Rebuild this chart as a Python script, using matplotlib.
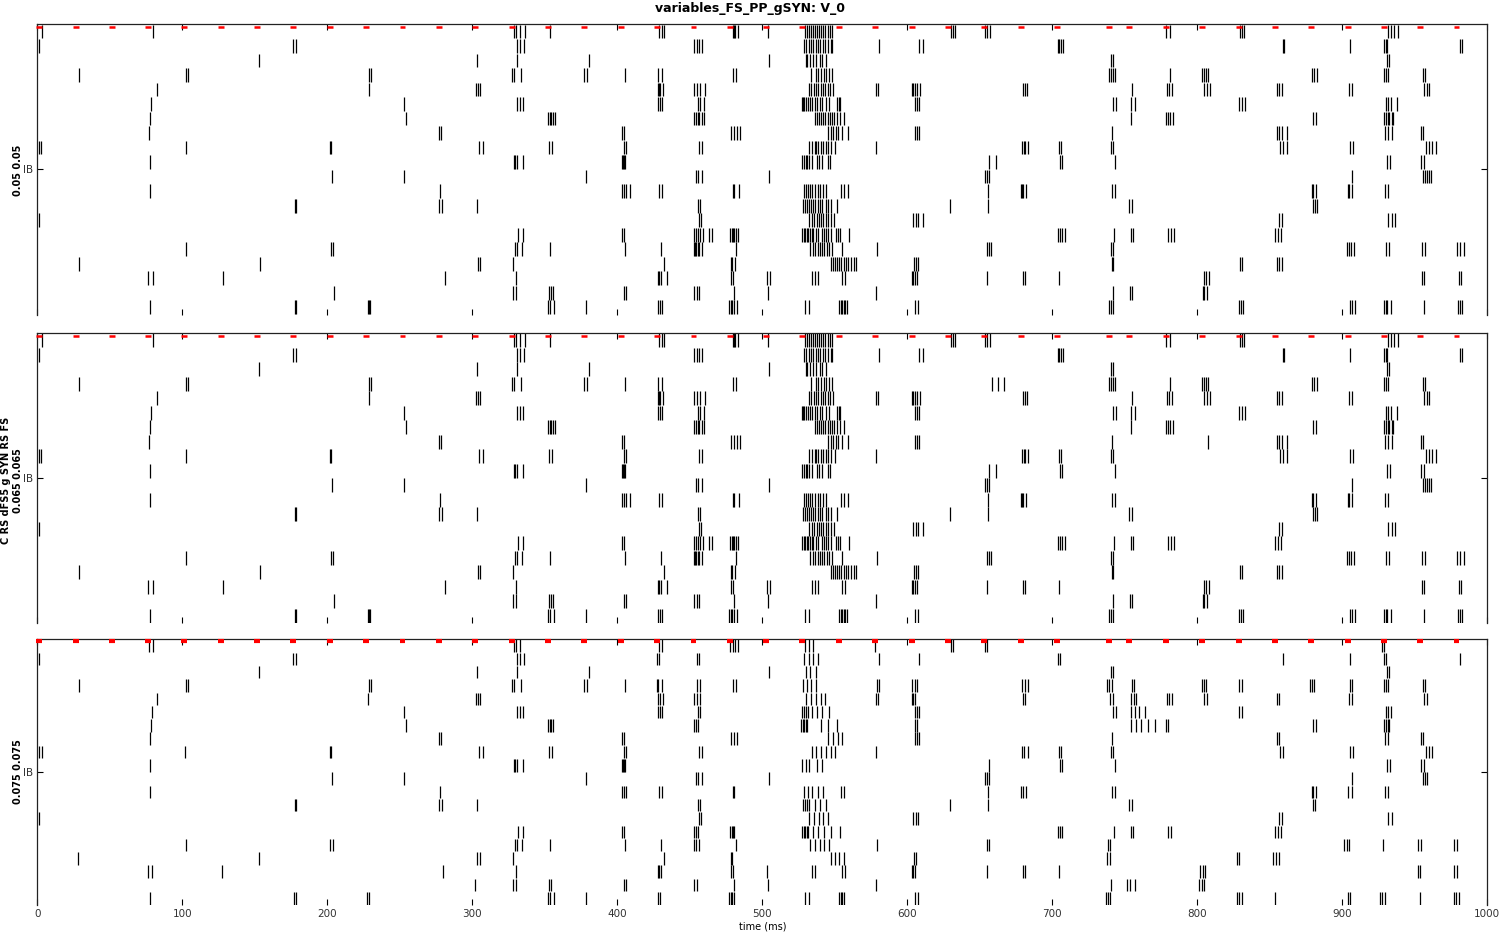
import matplotlib
matplotlib.use("Agg")
import matplotlib.pyplot as plt

# spike times (ms) per cell, row 0 at top
spikes_005 = [
    [3.0, 79.6, 328.5, 330.4, 332.9, 336.4, 353.8, 429.0, 430.6, 432.4, 479.6, 480.3, 481.2, 483.0, 504.1,
     529.7, 530.8, 532.2, 533.6, 535.0, 536.3, 537.7, 539.1, 540.5, 541.9, 543.5, 545.1, 546.7, 548.3,
     629.9, 631.3, 633.1, 653.8, 655.2, 657.0, 778.6, 780.9, 829.4, 830.6, 832.2, 931.7, 933.3, 935.4, 938.1],
    [1.4, 176.6, 178.6, 330.6, 332.9, 335.7, 453.1, 454.7, 456.4, 458.6, 529.0, 530.4, 532.0, 533.3, 535.2,
     536.8, 538.4, 539.8, 541.6, 543.5, 545.5, 547.1, 548.3, 580.7, 608.3, 610.6, 703.7, 704.8, 706.2, 707.6,
     858.8, 860.0, 905.5, 928.9, 930.1, 931.0, 981.4, 982.7],
    [153.1, 303.5, 331.1, 380.7, 504.8, 529.9, 531.0, 532.9, 534.7, 537.0, 539.8, 541.2, 543.7, 740.2, 741.6,
     931.0, 932.2],
    [28.5, 102.8, 104.2, 228.5, 230.4, 327.6, 329.0, 333.8, 377.0, 379.3, 405.5, 428.3, 430.6, 480.0, 482.1,
     533.3, 537.0, 538.6, 540.5, 542.3, 544.1, 546.0, 548.1, 739.3, 740.7, 742.1, 743.5, 781.4, 803.4, 804.6,
     805.7, 807.1, 879.3, 880.7, 882.3, 928.9, 930.3, 931.7, 955.4, 957.0],
    [82.8, 228.5, 302.8, 304.2, 305.5, 427.9, 428.5, 429.5, 431.5, 453.1, 455.0, 456.8, 460.7, 532.0, 533.6,
     535.4, 537.0, 538.6, 540.5, 542.1, 543.5, 545.1, 546.7, 549.0, 578.6, 580.0, 603.0, 604.1, 605.5, 606.9,
     608.7, 680.0, 681.4, 682.8, 755.2, 779.3, 780.7, 782.3, 804.8, 806.9, 808.5, 854.7, 856.5, 858.4, 904.8,
     906.6, 956.5, 958.1, 959.8],
    [78.6, 253.1, 331.1, 332.9, 335.2, 427.9, 429.5, 431.1, 455.9, 457.3, 460.0, 527.6, 528.3, 529.0, 530.1,
     531.3, 532.9, 534.3, 536.3, 537.9, 539.8, 541.2, 543.7, 545.8, 551.3, 552.7, 553.8, 605.0, 606.4, 608.3,
     741.6, 744.2, 754.0, 757.0, 829.0, 830.6, 832.9, 930.3, 931.7, 933.3, 937.9],
    [78.0, 254.0, 352.4, 353.4, 354.5, 355.9, 356.8, 453.1, 454.3, 455.4, 456.6, 458.2, 459.6, 536.1, 537.5,
     538.9, 540.2, 541.6, 543.0, 545.1, 546.4, 547.8, 549.2, 551.7, 553.6, 556.6, 754.5, 778.6, 780.0, 781.4,
     783.0, 880.0, 881.8, 928.9, 930.1, 931.2, 932.4, 934.0, 935.2],
    [77.3, 277.3, 278.7, 403.5, 404.9, 478.7, 480.3, 482.6, 484.9, 545.5, 547.1, 549.0, 550.6, 552.4, 554.7,
     559.3, 605.0, 606.4, 608.3, 740.9, 855.2, 856.5, 858.1, 862.0, 929.6, 931.7, 934.2, 954.2, 955.8],
    [1.4, 2.8, 102.8, 201.6, 202.8, 304.9, 307.6, 353.1, 355.2, 404.4, 406.0, 456.6, 458.6, 532.0, 534.0,
     536.1, 537.0, 538.6, 540.5, 542.1, 543.7, 545.5, 547.1, 550.4, 578.6, 678.9, 680.7, 681.4, 683.5, 704.4,
     705.8, 740.2, 742.1, 857.2, 859.3, 862.0, 905.5, 907.6, 957.9, 959.5, 961.6, 964.8],
    [78.0, 328.5, 329.7, 330.8, 335.0, 403.0, 403.7, 404.4, 405.1, 527.6, 528.7, 529.9, 531.0, 532.4, 534.0,
     537.5, 539.1, 541.2, 545.1, 546.9, 656.6, 660.9, 705.3, 706.9, 743.5, 931.0, 933.1, 954.2, 956.3],
    [203.0, 253.1, 378.6, 454.5, 455.9, 458.6, 504.8, 653.3, 654.7, 656.1, 906.9, 955.8, 957.2, 958.6, 960.0,
     961.4],
    [78.0, 278.0, 403.0, 404.4, 405.8, 408.5, 428.8, 431.1, 479.6, 480.7, 484.2, 529.0, 530.4, 531.7, 533.1,
     534.5, 536.3, 538.2, 540.0, 542.1, 543.7, 554.0, 556.6, 559.3, 655.9, 678.2, 679.1, 680.0, 682.1, 740.9,
     743.0, 878.8, 880.0, 881.8, 903.9, 904.6, 906.9, 929.2, 931.5],
    [177.5, 178.6, 277.3, 279.3, 303.5, 455.4, 457.0, 528.3, 529.7, 531.0, 532.4, 533.8, 535.2, 536.6, 538.2,
     539.8, 541.4, 543.7, 545.3, 547.1, 551.3, 629.7, 655.9, 753.1, 754.7, 879.5, 881.1, 882.7],
    [1.4, 456.4, 457.7, 532.4, 534.3, 535.9, 537.5, 539.1, 540.7, 542.1, 543.7, 545.3, 547.1, 549.4, 604.1,
     605.8, 607.6, 611.0, 856.5, 858.4, 931.7, 934.0, 936.5],
    [331.3, 335.0, 403.5, 404.9, 453.1, 454.5, 455.9, 457.3, 459.3, 463.0, 465.6, 478.0, 478.9, 479.8, 480.7,
     481.6, 483.5, 527.6, 528.5, 529.4, 530.6, 531.7, 532.9, 534.0, 535.2, 537.0, 538.6, 541.4, 542.5, 543.9,
     545.3, 547.1, 550.6, 552.0, 553.6, 560.0, 704.1, 705.5, 706.9, 708.5, 742.8, 754.2, 755.6, 780.0, 781.6,
     783.9, 853.8, 855.4, 857.5],
    [102.8, 202.3, 204.0, 329.2, 330.6, 334.5, 353.8, 405.5, 430.4, 453.1, 453.8, 454.5, 455.4, 456.3, 458.6,
     482.1, 533.1, 534.7, 536.6, 538.2, 539.8, 541.4, 542.8, 544.4, 546.2, 547.8, 554.7, 579.3, 654.7, 656.1,
     657.7, 740.2, 741.6, 903.2, 904.4, 905.7, 908.0, 930.1, 932.2, 954.9, 957.0, 979.3, 981.4, 984.1],
    [28.5, 153.8, 303.7, 305.1, 328.3, 432.0, 478.2, 479.3, 481.2, 547.1, 548.5, 550.4, 551.7, 553.1, 554.5,
     556.1, 557.5, 559.3, 561.4, 563.0, 564.8, 604.4, 606.0, 607.6, 740.9, 741.6, 829.4, 831.0, 855.2, 856.5,
     858.1],
    [76.6, 80.0, 128.3, 281.4, 330.4, 427.9, 429.0, 430.4, 434.5, 478.2, 479.6, 503.5, 505.3, 534.0, 536.1,
     538.2, 554.7, 557.3, 603.0, 604.1, 605.5, 606.9, 654.7, 679.6, 681.4, 704.8, 804.8, 806.0, 808.0, 954.7,
     956.3, 980.4, 981.8],
    [204.6, 328.3, 330.4, 353.1, 354.3, 355.9, 404.4, 406.2, 453.1, 455.0, 456.6, 480.7, 504.1, 578.6, 742.1,
     753.3, 754.9, 803.9, 804.8, 806.4],
    [78.0, 177.5, 178.6, 228.1, 229.0, 229.7, 352.4, 353.6, 356.1, 378.6, 427.9, 429.5, 431.1, 477.3, 478.2,
     479.1, 480.3, 482.3, 529.7, 532.4, 552.9, 554.0, 555.2, 556.3, 557.3, 558.6, 605.3, 607.6, 739.1, 740.2,
     741.6, 828.7, 830.1, 831.7, 905.5, 906.9, 908.7, 928.9, 930.3, 931.0, 933.3, 956.5, 979.8, 981.2, 982.5],
]

# middle panel: nearly the same raster, a few extra spikes
spikes_0065 = [list(r) for r in spikes_005]
spikes_0065[3] = spikes_0065[3] + [658.6, 662.8, 667.0]
spikes_0065[7] = spikes_0065[7] + [807.5]

spikes_0075 = [
    [77.3, 79.6, 328.5, 330.4, 332.9, 429.0, 430.6, 477.5, 479.6, 481.2, 483.0, 529.7, 532.2, 535.0, 578.0,
     629.9, 631.3, 653.8, 655.2, 927.5, 929.0],
    [1.4, 176.6, 178.6, 330.6, 332.9, 335.7, 427.5, 429.0, 454.7, 456.4, 529.0, 532.0, 535.2, 538.4, 580.7,
     608.3, 703.7, 705.0, 858.8, 905.5, 928.9, 930.1, 981.4],
    [153.1, 303.5, 331.1, 380.7, 504.8, 529.9, 532.9, 537.0, 740.2, 741.6, 931.0, 932.2],
    [28.5, 102.8, 104.2, 228.5, 230.4, 327.6, 329.0, 333.8, 377.0, 379.3, 405.5, 427.5, 428.3, 430.6, 455.0,
     457.0, 480.0, 482.1, 528.0, 530.5, 533.3, 537.0, 579.0, 580.5, 603.5, 605.0, 607.0, 679.0, 681.0, 683.0,
     737.5, 739.3, 741.0, 755.0, 756.5, 803.4, 804.6, 805.7, 829.0, 830.5, 877.5, 879.3, 880.7, 905.5, 906.5,
     928.9, 930.3, 931.7, 955.4, 957.0],
    [82.3, 228.3, 302.8, 304.2, 305.5, 427.9, 429.5, 431.5, 453.1, 455.0, 456.8, 530.0, 533.6, 537.0, 540.5,
     543.5, 578.6, 580.0, 603.0, 604.1, 605.5, 680.0, 681.4, 740.0, 742.0, 754.5, 756.0, 758.0, 779.3, 780.7,
     782.3, 804.8, 806.9, 854.7, 856.5, 904.8, 906.6, 956.5, 958.1],
    [79.0, 253.1, 331.1, 332.9, 335.2, 427.9, 429.5, 431.1, 455.9, 457.3, 527.6, 529.0, 530.1, 531.3, 534.3,
     537.9, 541.2, 545.8, 605.0, 606.4, 608.3, 741.6, 744.2, 754.0, 757.0, 760.0, 764.0, 829.0, 830.6, 930.3,
     931.7, 933.3],
    [78.1, 254.0, 352.4, 353.4, 354.5, 355.9, 453.1, 454.3, 455.4, 527.0, 528.0, 529.0, 530.0, 531.0, 540.2,
     545.1, 551.7, 605.0, 607.0, 754.5, 758.0, 761.0, 766.0, 771.0, 778.6, 780.0, 880.0, 881.8, 928.9, 930.1,
     931.2, 932.4],
    [77.4, 277.3, 278.7, 403.5, 404.9, 478.7, 480.3, 482.6, 545.5, 549.0, 552.4, 554.7, 605.0, 606.4, 608.3,
     740.9, 855.2, 856.5, 929.6, 931.7, 954.2, 955.8],
    [1.4, 3.0, 102.2, 201.7, 202.8, 304.9, 307.6, 353.1, 355.2, 404.4, 406.0, 456.6, 458.6, 534.0, 537.0,
     540.5, 543.7, 547.1, 550.4, 578.6, 678.9, 680.7, 683.5, 704.4, 705.8, 740.2, 742.1, 857.2, 859.3, 905.5,
     907.6, 957.9, 959.5, 961.6],
    [78.0, 328.5, 329.7, 330.8, 335.0, 403.0, 403.7, 404.4, 405.1, 527.6, 529.9, 532.4, 537.5, 541.2, 656.6,
     705.3, 706.9, 743.5, 931.0, 933.1, 954.2, 956.3],
    [203.0, 253.1, 378.6, 454.5, 455.9, 458.6, 504.8, 653.3, 654.7, 656.1, 906.9, 955.8, 957.2, 958.6],
    [78.0, 278.0, 403.0, 404.4, 405.8, 428.8, 431.1, 479.6, 480.7, 529.0, 531.7, 534.5, 538.2, 542.1, 554.0,
     556.6, 655.9, 678.2, 680.0, 682.1, 740.9, 743.0, 878.8, 880.0, 881.8, 903.9, 906.9, 929.2, 931.5],
    [177.5, 178.6, 277.3, 279.3, 303.5, 455.4, 457.0, 528.3, 529.7, 531.0, 532.4, 536.6, 539.8, 543.7, 629.7,
     655.9, 753.1, 754.7, 879.5, 881.1],
    [1.4, 456.4, 457.7, 532.4, 535.9, 539.1, 542.1, 545.3, 604.1, 605.8, 607.6, 856.5, 858.4, 931.7, 934.0],
    [331.3, 335.0, 403.5, 404.9, 453.1, 454.5, 455.9, 478.0, 478.9, 479.8, 480.7, 527.6, 528.5, 529.4, 530.6,
     531.7, 535.2, 538.6, 542.5, 547.1, 553.6, 704.1, 705.5, 706.9, 742.8, 754.2, 755.6, 780.0, 781.6, 853.8,
     855.4, 857.5],
    [102.6, 201.8, 204.0, 329.2, 330.6, 334.5, 353.8, 405.5, 430.4, 453.1, 454.5, 456.3, 482.1, 533.1, 536.6,
     539.8, 542.8, 546.2, 579.3, 654.7, 656.1, 738.5, 740.0, 901.5, 903.0, 904.5, 927.8, 952.2, 954.1, 977.0,
     979.0],
    [28.1, 153.0, 303.3, 305.1, 328.3, 432.0, 478.2, 479.3, 547.1, 550.4, 553.1, 556.1, 604.4, 606.0, 737.8,
     739.8, 827.2, 828.6, 852.2, 854.2, 856.3],
    [76.6, 79.3, 127.5, 280.0, 330.4, 427.9, 429.0, 430.4, 478.2, 479.6, 503.5, 534.0, 536.1, 554.7, 557.3,
     603.0, 604.1, 605.5, 654.7, 679.6, 681.4, 704.8, 801.9, 803.7, 805.5, 952.0, 953.6, 977.0, 979.0],
    [301.9, 328.3, 330.4, 353.1, 354.3, 404.4, 406.2, 453.1, 455.0, 480.7, 504.1, 578.6, 740.3, 751.7, 753.6,
     757.2, 801.2, 802.9, 804.6],
    [78.0, 177.0, 178.4, 227.5, 228.8, 352.4, 353.6, 356.1, 378.6, 427.9, 429.5, 477.3, 478.2, 479.1, 480.3,
     529.7, 532.4, 552.9, 554.0, 555.2, 556.3, 605.3, 607.6, 737.0, 738.3, 739.7, 827.2, 829.0, 830.8, 853.6,
     903.6, 905.3, 926.0, 927.7, 929.4, 953.4, 977.0, 978.6, 980.2],
]

# FS spikes (red marks at the top of each panel)
fs_times = [1.4, 26.5, 51.3, 76.3, 101.4, 126.5, 151.5, 176.6, 201.9, 226.7, 251.8, 277.0, 302.0, 327.2,
            352.4, 377.3, 402.3, 427.4, 452.5, 477.5, 502.5, 527.6, 552.7, 577.7, 603.0, 627.8, 653.1, 678.2,
            703.0, 739.3, 753.1, 778.4, 803.4, 828.5, 853.6, 878.6, 903.7, 928.7, 953.8, 978.8]

ylabels = ["0.05 0.05", "C RS dFS5 g SYN RS FS\n0.065 0.065", "0.075 0.075"]
label_xy = [(0.0122, 0.8185), (0.0082, 0.4875), (0.0122, 0.177)]
n_cells = 20

fig = plt.figure(figsize=(15, 9.38), dpi=100)
rects = [[0.02487, 0.6647, 0.96667, 0.3094],
         [0.02487, 0.3358, 0.96667, 0.3092],
         [0.02487, 0.0352, 0.96667, 0.2836]]
panels = [(spikes_005, 1.8, 0.18), (spikes_0065, 1.8, 0.18), (spikes_0075, 3.0, 0.13)]

for k, (rect, (cells, fslw, fsy)) in enumerate(zip(rects, panels)):
    ax = fig.add_axes(rect)
    for i, times in enumerate(cells):
        ax.vlines(times, i + 0.03, i + 0.97, color="k", lw=0.9)
    ax.hlines([fsy] * len(fs_times), [t - 2 for t in fs_times], [t + 2 for t in fs_times],
              color="red", lw=fslw, clip_on=False, zorder=5)
    ax.set_xlim(0, 1000)
    ax.set_ylim(n_cells, 0)
    ax.spines["bottom"].set_visible(False)
    for s in ["top", "left", "right"]:
        ax.spines[s].set_linewidth(0.9)
        ax.spines[s].set_color("#222222")
    ax.set_xticks(range(0, 1001, 100))
    ax.set_yticks([n_cells / 2])
    ax.set_yticklabels(["IB"], fontsize=7, color="#333333")
    ax.tick_params(axis="both", direction="in", length=4, width=0.8, top=True, right=True,
                   labelsize=7.5, labelcolor="#333333", pad=3)
    fig.text(label_xy[k][0], label_xy[k][1], ylabels[k], rotation=90, ha="center", va="center",
             fontsize=7, fontweight="bold", linespacing=1.2, multialignment="center")
    if k < 2:
        ax.set_xticklabels([])
    else:
        ax.set_xlabel("time (ms)", fontsize=7, labelpad=2)

fig.suptitle("variables_FS_PP_gSYN: V_0", fontsize=9, fontweight="bold", y=0.998)
fig.savefig("out.png", dpi=100)
